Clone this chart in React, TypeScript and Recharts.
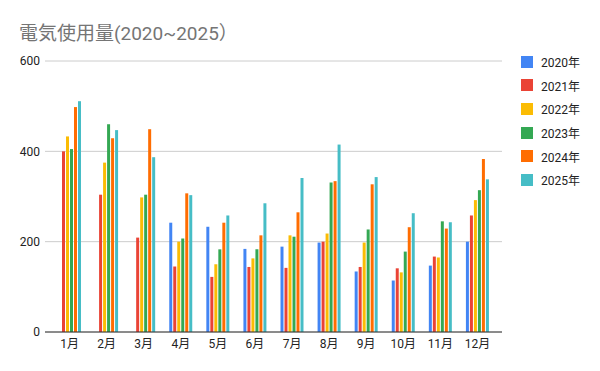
import React from "react";
import { BarChart, Bar, XAxis, YAxis, CartesianGrid } from "recharts";

const months = ["1月", "2月", "3月", "4月", "5月", "6月", "7月", "8月", "9月", "10月", "11月", "12月"];
const y2020 = [null, null, null, 242, 233, 184, 189, 198, 134, 114, 147, 200];
const y2021 = [400, 304, 209, 145, 122, 144, 142, 200, 144, 141, 167, 258];
const y2022 = [433, 375, 298, 200, 150, 163, 214, 218, 198, 132, 165, 292];
const y2023 = [405, 460, 304, 207, 183, 183, 211, 331, 227, 178, 245, 314];
const y2024 = [498, 429, 449, 307, 242, 214, 265, 334, 327, 232, 229, 383];
const y2025 = [511, 447, 387, 303, 258, 285, 341, 415, 343, 263, 243, 338];
const yTicks = [0, 200, 400, 600];

const seriesNames = ["2020年", "2021年", "2022年", "2023年", "2024年", "2025年"];
const seriesValues = [y2020, y2021, y2022, y2023, y2024, y2025];
const colors = ["#4285F4", "#EA4335", "#FBBC04", "#34A853", "#FF6D01", "#46BDC6"];

const data = months.map((m, i) => {
  const row: Record<string, any> = { month: m };
  seriesNames.forEach((s, j) => {
    row[s] = seriesValues[j][i];
  });
  return row;
});

const font = "Roboto, Arial, 'Noto Sans CJK JP', sans-serif";

export default function App() {
  return (
    <div style={{ position: "absolute", left: 0, top: 0, width: 600, height: 371, background: "#fff" }}>
      <div
        style={{
          position: "absolute",
          left: 19,
          top: 18,
          fontSize: 19,
          color: "#757575",
          fontFamily: font,
          whiteSpace: "nowrap",
        }}
      >
        電気使用量(2020~2025）
      </div>
      <div style={{ position: "absolute", left: 521, top: 50, fontFamily: font }}>
        {seriesNames.map((s, i) => (
          <div key={s} style={{ display: "flex", alignItems: "center", height: 23.6 }}>
            <div style={{ width: 12, height: 12, background: colors[i], marginRight: 8 }} />
            <span style={{ fontSize: 12, color: "#222" }}>{s}</span>
          </div>
        ))}
      </div>
      <BarChart
        width={600}
        height={371}
        data={data}
        margin={{ top: 61, right: 98, bottom: 0, left: 0 }}
        barSize={3}
        barGap={1}
        style={{ position: "absolute", left: 0, top: 0 }}
      >
        <CartesianGrid vertical={false} stroke="#cccccc" />
        <XAxis
          dataKey="month"
          height={39}
          tickLine={false}
          axisLine={{ stroke: "#333" }}
          tick={{ fontSize: 12, fill: "#222", fontFamily: font }}
          tickSize={0}
          tickMargin={7}
          padding={{ left: 6, right: 6 }}
          interval={0}
        />
        <YAxis
          width={45}
          domain={[0, 600]}
          ticks={yTicks}
          tickLine={false}
          axisLine={false}
          tickSize={0}
          tickMargin={5}
          tick={{ fontSize: 12, fill: "#222", fontFamily: font }}
        />
        {seriesNames.map((s, i) => (
          <Bar key={s} dataKey={s} fill={colors[i]} isAnimationActive={false} />
        ))}
      </BarChart>
    </div>
  );
}
